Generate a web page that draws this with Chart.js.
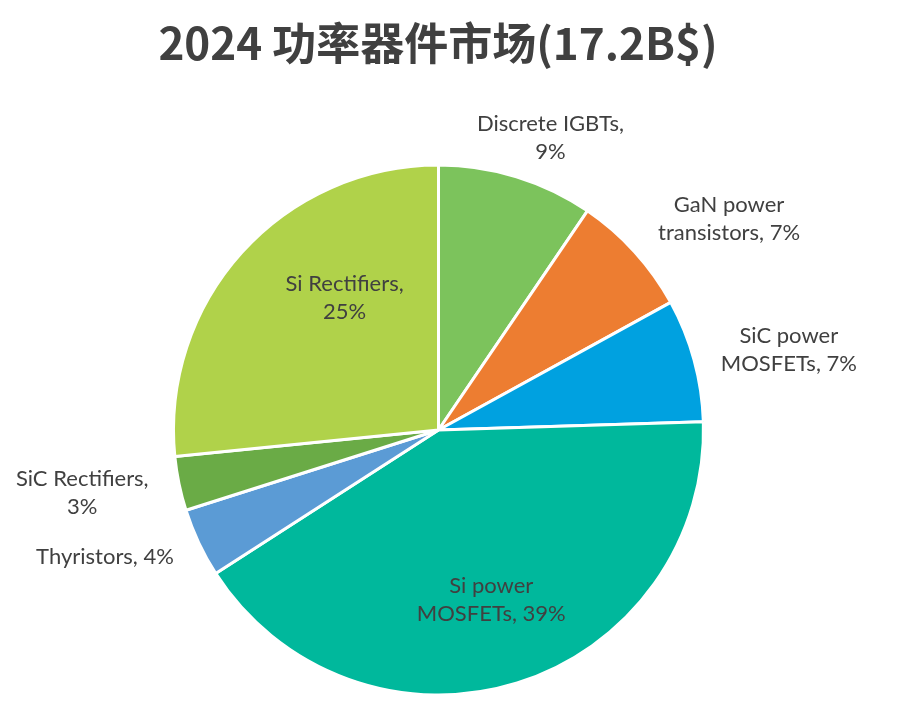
<!DOCTYPE html>
<html>
<head>
<meta charset="utf-8">
<script src="https://cdn.jsdelivr.net/npm/chart.js@4.4.1/dist/chart.umd.min.js"></script>
<style>
  html, body { margin: 0; padding: 0; background: #fff; }
  #wrap { width: 900px; height: 713px; position: relative; }
</style>
</head>
<body>
<div id="wrap"><canvas id="pie"></canvas></div>
<script>
const titleText = "2024 功率器件市场(17.2B$)";
const categories = ["Discrete IGBTs", "GaN power transistors", "SiC power MOSFETs", "Si power MOSFETs", "Thyristors", "SiC Rectifiers", "Si Rectifiers"];
const shares = [9.5, 7.5, 7.5, 41.4, 4.2, 3.3, 26.6];
const labelLines = [
    ["Discrete IGBTs,", "9%"],
    ["GaN power", "transistors, 7%"],
    ["SiC power", "MOSFETs, 7%"],
    ["Si power", "MOSFETs, 39%"],
    ["Thyristors, 4%"],
    ["SiC Rectifiers,", "3%"],
    ["Si Rectifiers,", "25%"]
];
const colors = ["#7cc35c", "#ed7d31", "#00a1e0", "#00b89c", "#5b9bd5", "#6aab46", "#b0d24a"];

// where each label sits: fraction of radius along the mid angle, then a nudge
const labelPlace = [
    { k: 1.18, dx: 20, dy: 7 },
    { k: 1.355, dx: 25, dy: 31 },
    { k: 1.355, dx: 4, dy: 15 },
    { k: 0.67, dx: 0, dy: 0 },
    { k: 1.345, dx: -11, dy: -25 },
    { k: 1.365, dx: -2, dy: -10 },
    { k: 0.61, dx: 26, dy: -24 }
];

const pieLabels = {
    id: "pieLabels",
    afterDraw(chart) {
        const ctx = chart.ctx;
        ctx.save();
        // title
        ctx.fillStyle = "#404040";
        ctx.font = "bold 44px 'Noto Sans CJK SC', 'Noto Sans', sans-serif";
        ctx.textAlign = "center";
        ctx.textBaseline = "middle";
        ctx.fillText(titleText, 438, 43);

        ctx.font = "22px Lato, 'Noto Sans', sans-serif";
        ctx.fillStyle = "#404040";
        const arcs = chart.getDatasetMeta(0).data;
        arcs.forEach((arc, i) => {
            const mid = (arc.startAngle + arc.endAngle) / 2;
            const p = labelPlace[i];
            const x = arc.x + Math.cos(mid) * arc.outerRadius * p.k + p.dx;
            const y = arc.y + Math.sin(mid) * arc.outerRadius * p.k + p.dy;
            const lines = labelLines[i];
            const lh = 28;
            lines.forEach((t, j) => {
                ctx.fillText(t, x, y + (j - (lines.length - 1) / 2) * lh);
            });
        });
        ctx.restore();
    }
};

new Chart(document.getElementById("pie"), {
    type: "pie",
    data: {
        labels: categories,
        datasets: [{
            data: shares,
            backgroundColor: colors,
            borderColor: "#ffffff",
            borderWidth: 3
        }]
    },
    options: {
        responsive: true,
        maintainAspectRatio: false,
        animation: false,
        layout: { padding: { top: 163, bottom: 16, left: 172, right: 195 } },
        plugins: {
            legend: { display: false },
            tooltip: { enabled: false },
            title: { display: false }
        }
    },
    plugins: [pieLabels]
});
</script>
</body>
</html>
